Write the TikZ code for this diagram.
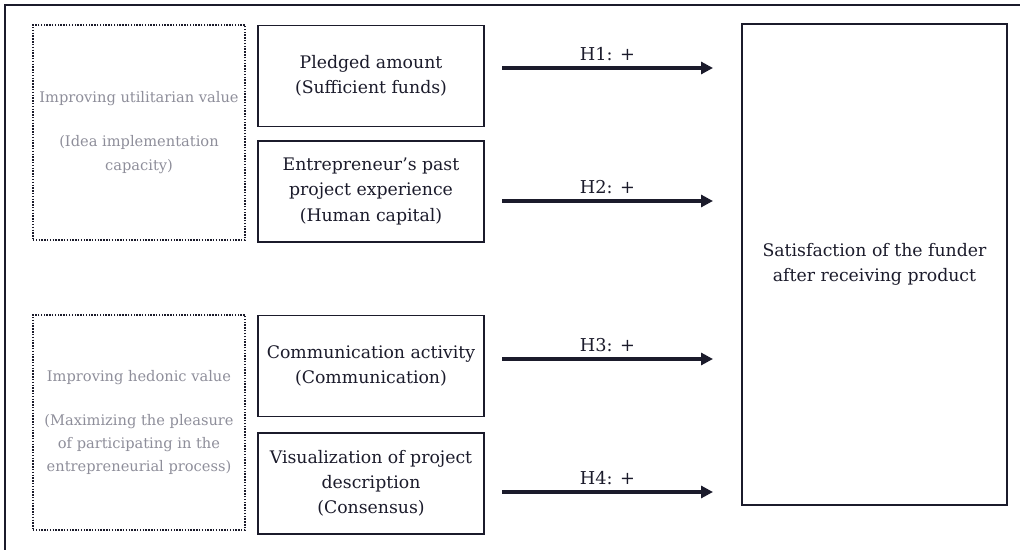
\documentclass[tikz,border=0pt]{standalone}
\usepackage{fontspec}
\setmainfont{DejaVu Serif}
\usetikzlibrary{positioning,arrows.meta}

\definecolor{inkdark}{RGB}{27,27,43}
\definecolor{notegray}{RGB}{142,142,154}

\begin{document}
\begin{tikzpicture}[x=0.025cm, y=-0.025cm,
  factor/.style={draw=inkdark, line width=0.9pt, minimum width=5.65cm, minimum height=2.53cm,
    align=center, text=inkdark, font=\fontsize{12.3}{17.8}\selectfont},
  valuebox/.style={draw=inkdark, line width=1pt, dash pattern=on 1pt off 1pt,
    minimum width=5.3cm, minimum height=5.375cm, align=center, text=notegray,
    font=\fontsize{10.4}{16.4}\selectfont},
  outcome/.style={draw=inkdark, line width=1pt, minimum width=6.625cm, minimum height=12.025cm,
    align=center, text=inkdark, font=\fontsize{12.3}{17.8}\selectfont},
  hyp/.style={draw=inkdark, line width=2.3pt, -{Triangle[length=8.5pt,width=8.5pt]}}]
  \clip (0,0) rectangle (1020,550);
  \draw[inkdark, line width=1pt] (5,5) rectangle (1040,570);

  % value groups
  \node[valuebox] (util) at (139,132.5) {Improving utilitarian value\\[15pt](Idea implementation\\capacity)};
  \node[valuebox] (hedo) at (139,422.5) {Improving hedonic value\\[15pt](Maximizing the pleasure\\of participating in the\\entrepreneurial process)};

  % factors
  \node[factor] (pledge) at (371,76) {Pledged amount\\(Sufficient funds)};
  \node[factor, below=0.325cm of pledge] (exper) {Entrepreneur’s past\\project experience\\(Human capital)};
  \node[factor] (commu) at (371,366) {Communication activity\\(Communication)};
  \node[factor, below=0.375cm of commu] (visual) {Visualization of project\\description\\(Consensus)};

  % outcome
  \node[outcome] (satis) at (874.5,264.5) {Satisfaction of the funder\\after receiving product};

  % hypotheses
  \foreach \i/\y in {1/68,2/201,3/359,4/492}{
    \coordinate (hs\i) at (502,\y);
    \coordinate (he\i) at (713,\y);
    \draw[hyp] (hs\i) -- node[above=1pt, text=inkdark, font=\fontsize{12.6}{14}\selectfont] {H\i: +} (he\i);
  }
\end{tikzpicture}
\end{document}
